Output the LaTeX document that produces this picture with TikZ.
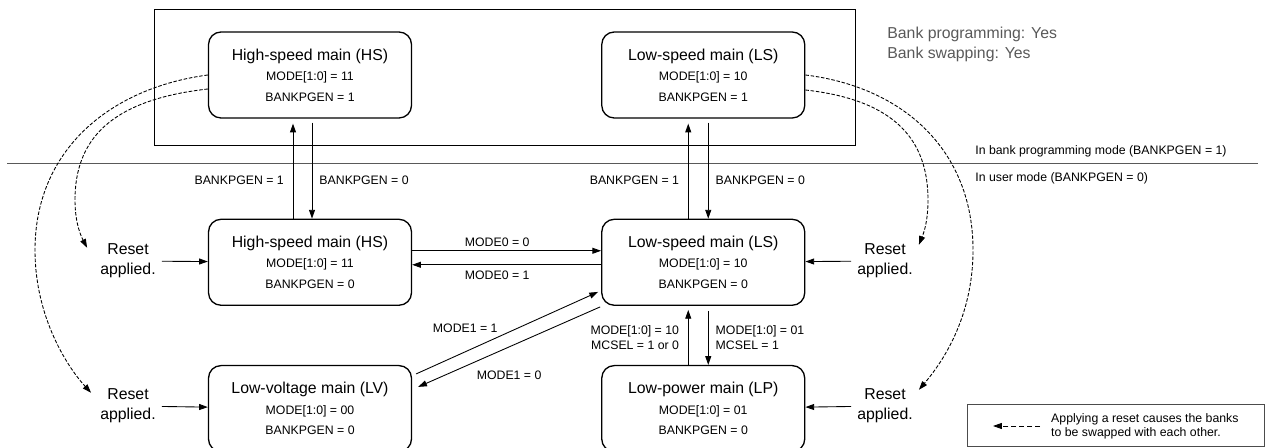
\documentclass[tikz,border=0pt]{standalone}
\usepackage{fontspec}
\setmainfont{Liberation Sans}
\usetikzlibrary{arrows.meta,positioning}

\begin{document}
\begin{tikzpicture}[
    x=0.02cm, y=-0.02cm,
    node distance=2cm and 3.78cm,
    modebox/.style={draw, rounded corners=0.25cm, align=center, line width=0.75pt,
                minimum width=4.06cm, minimum height=1.72cm, font=\fontsize{7}{11.6}\selectfont},
    arrow/.style={-{Triangle[length=5pt,width=3.4pt]}, line width=0.5pt},
    resetarrow/.style={-{Triangle[length=5pt,width=3.4pt]}, line width=0.5pt, dash pattern=on 2pt off 1pt},
    rst/.style={align=center, font=\fontsize{9}{11.3}\selectfont},
    lbl/.style={font=\fontsize{7}{8.5}\selectfont, inner sep=2pt}
]
\useasboundingbox (0,0) rectangle (1266,448);

% bank programming frame and mode separator
\draw[line width=0.5pt] (154,9) rectangle (855,145);
\draw[black!65, line width=0.5pt] (7,163) -- (1258,163);
\node[anchor=north west, align=left, inner sep=0pt, text=black!65,
      font=\fontsize{9}{11.3}\selectfont] (bankinfo) at (887,27) {Bank programming: Yes\\Bank swapping: Yes};
\node[anchor=base west, inner sep=0pt, font=\fontsize{7}{8.5}\selectfont] (pgmode) at (975,154.5) {In bank programming mode (BANKPGEN = 1)};
\node[anchor=base west, inner sep=0pt, font=\fontsize{7}{8.5}\selectfont] (usermode) at (975,181.5) {In user mode (BANKPGEN = 0)};

% modes
\node[modebox] (hsP) at (310,75) {{\fontsize{9}{11.6}\selectfont High-speed main (HS)}\\MODE[1:0] = 11\\BANKPGEN = 1};
\node[modebox, below=of hsP] (hsU) {{\fontsize{9}{11.6}\selectfont High-speed main (HS)}\\MODE[1:0] = 11\\BANKPGEN = 0};
\node[modebox, right=of hsU] (lsU) {{\fontsize{9}{11.6}\selectfont Low-speed main (LS)}\\MODE[1:0] = 10\\BANKPGEN = 0};
\node[modebox, above=of lsU] (lsP) {{\fontsize{9}{11.6}\selectfont Low-speed main (LS)}\\MODE[1:0] = 10\\BANKPGEN = 1};
\node[modebox, below=1.18cm of hsU] (lv) {{\fontsize{9}{11.6}\selectfont Low-voltage main (LV)}\\MODE[1:0] = 00\\BANKPGEN = 0};
\node[modebox, below=1.18cm of lsU] (lp) {{\fontsize{9}{11.6}\selectfont Low-power main (LP)}\\MODE[1:0] = 01\\BANKPGEN = 0};

% resets
\node[rst] (rstA) at (128,261) {Reset\\applied.};
\node[rst] (rstB) at (128,406) {Reset\\applied.};
\node[rst] (rstC) at (885,261) {Reset\\applied.};
\node[rst] (rstD) at (885,406) {Reset\\applied.};

\draw[arrow] ([xshift=-0.34cm]hsU.north) -- ([xshift=-0.34cm,yshift=-0.1cm]hsP.south) node[lbl, left=3pt, pos=0.4] {BANKPGEN = 1};
\draw[arrow] ([xshift=0.04cm,yshift=-0.08cm]hsP.south) -- ([xshift=0.04cm]hsU.north) node[lbl, right=2pt, pos=0.6] {BANKPGEN = 0};
\draw[arrow] ([xshift=-0.3cm]lsU.north) -- ([xshift=-0.3cm,yshift=-0.1cm]lsP.south) node[lbl, left=3pt, pos=0.4] {BANKPGEN = 1};
\draw[arrow] ([xshift=0.1cm,yshift=-0.08cm]lsP.south) -- ([xshift=0.1cm]lsU.north) node[lbl, right=2pt, pos=0.6] {BANKPGEN = 0};

\draw[arrow] ([yshift=0.23cm]hsU.east) -- ([yshift=0.23cm]lsU.west) node[lbl, above, pos=0.45] {MODE0 = 0};
\draw[arrow] ([yshift=-0.05cm]lsU.west) -- ([yshift=-0.05cm]hsU.east) node[lbl, below=1pt, pos=0.55] {MODE0 = 1};
\draw[arrow] ([xshift=0.08cm,yshift=-0.18cm]lv.north east) -- ([xshift=-0.06cm,yshift=0.28cm]lsU.south west) node[lbl, pos=0.27, above=0.3cm] {MODE1 = 1};
\draw[arrow] ([xshift=-0.02cm,yshift=-0.02cm]lsU.south west) -- ([xshift=0.12cm,yshift=-0.44cm]lv.north east) node[lbl, pos=0.5, below=0.4cm] {MODE1 = 0};

\draw[arrow] ([xshift=-0.3cm]lp.north) -- ([xshift=-0.3cm,yshift=-0.08cm]lsU.south) node[lbl, left=3pt, midway, align=right] {MODE[1:0] = 10\\MCSEL = 1 or 0};
\draw[arrow] ([xshift=0.1cm,yshift=-0.1cm]lsU.south) -- ([xshift=0.1cm]lp.north) node[lbl, right=2pt, midway, align=left] {MODE[1:0] = 01\\MCSEL = 1};

\draw[arrow] (rstA) -- (hsU);
\draw[arrow] (rstB) -- (lv);
\draw[arrow] (rstC) -- (lsU);
\draw[arrow] (rstD) -- (lp);

% bank swap on reset
\draw[resetarrow] (hsP.west) .. controls (110,88) and (35,150) .. (35,250)
    .. controls (35,320) and (70,370) .. ([xshift=-0.06cm,yshift=-0.2cm]rstB.north west);
\draw[resetarrow] ([yshift=-0.28cm]hsP.west) .. controls (110,100) and (75,140) .. (75,200)
    .. controls (75,225) and (82,238) .. ([xshift=-0.14cm,yshift=-0.2cm]rstA.north west);
\draw[resetarrow] (lsP.east) .. controls (903,87) and (973,150) .. (973,250)
    .. controls (973,320) and (940,365) .. ([yshift=-0.14cm]rstD.north east);
\draw[resetarrow] ([yshift=-0.3cm]lsP.east) .. controls (895,100) and (928,140) .. (928,200)
    .. controls (928,225) and (922,237) .. ([yshift=-0.14cm]rstC.north east);

% legend
\node[draw=black!70, line width=0.5pt, minimum width=5.94cm, minimum height=0.84cm,
      anchor=south east, inner sep=0pt] (legend) at (1265,447) {};
\node[anchor=west, align=left, font=\fontsize{7}{8}\selectfont] (lgtxt) at (1045,426) {Applying a reset causes the banks\\to be swapped with each other.};
\coordinate[left=1.04cm of lgtxt.west] (lgtip);
\draw[resetarrow, dash pattern=on 2.8pt off 1.7pt] ([xshift=-0.1cm]lgtxt.west) -- (lgtip);
\end{tikzpicture}
\end{document}
